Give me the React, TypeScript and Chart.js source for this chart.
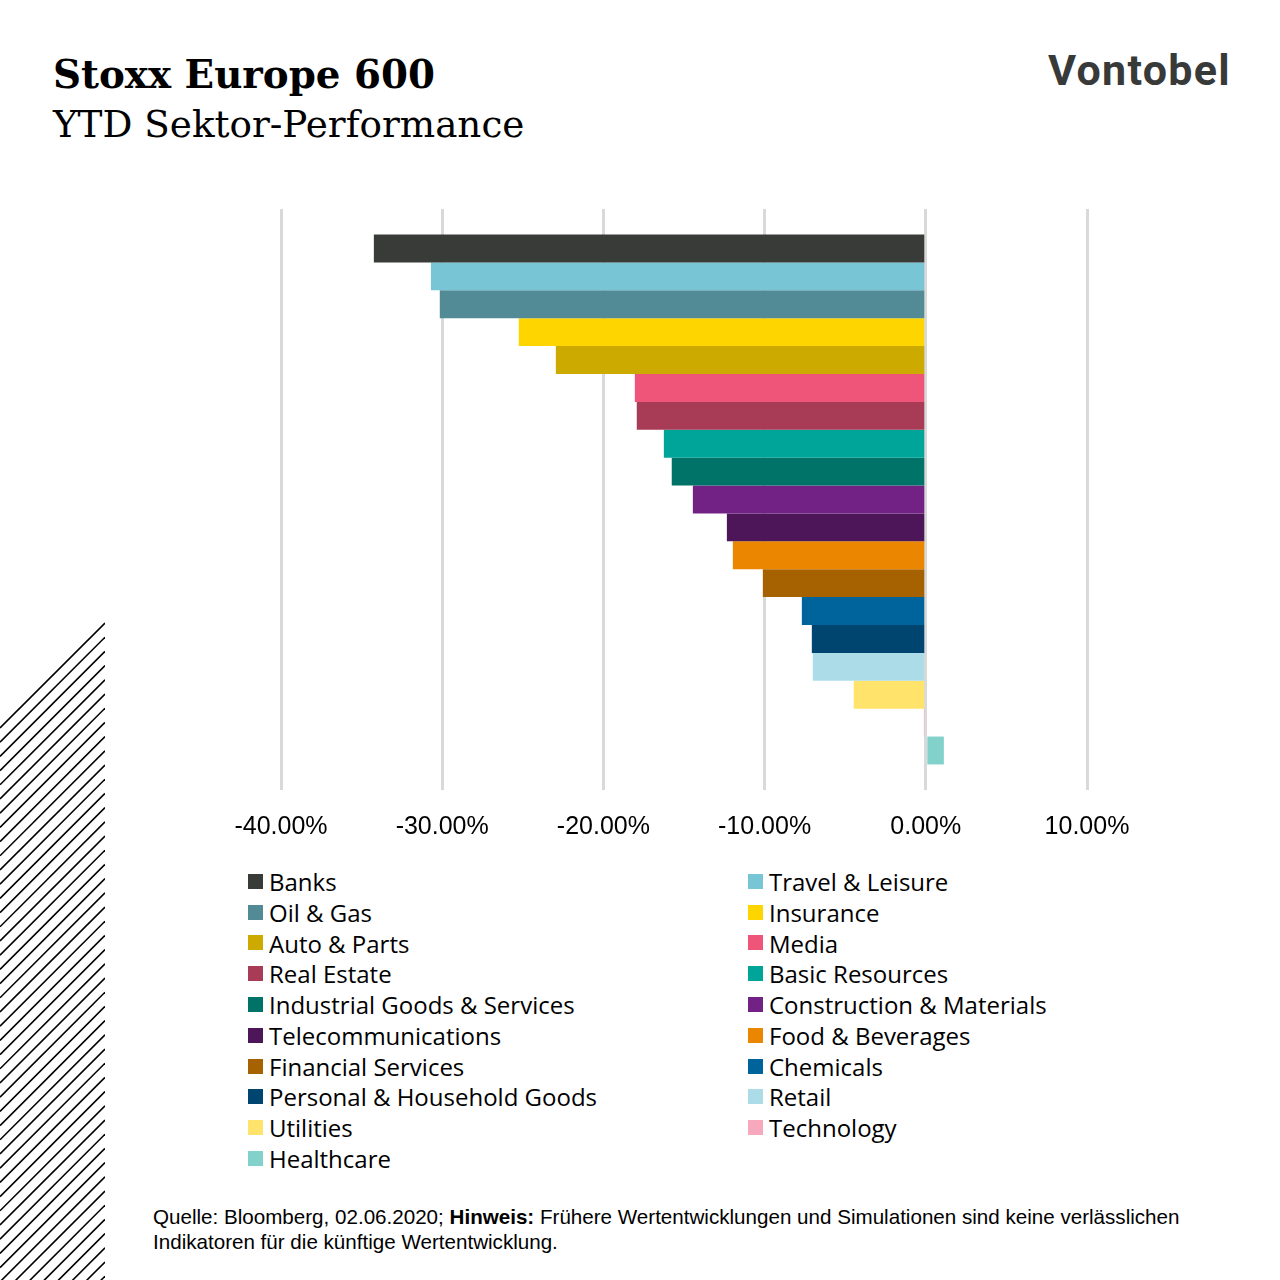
import React, { useEffect, useRef } from "react";
import { Chart, registerables } from "chart.js";

Chart.register(...registerables);

const sectors = [
  "Banks",
  "Travel & Leisure",
  "Oil & Gas",
  "Insurance",
  "Auto & Parts",
  "Media",
  "Real Estate",
  "Basic Resources",
  "Industrial Goods & Services",
  "Construction & Materials",
  "Telecommunications",
  "Food & Beverages",
  "Financial Services",
  "Chemicals",
  "Personal & Household Goods",
  "Retail",
  "Utilities",
  "Technology",
  "Healthcare",
];

const ytdPerformance = [
  -34.24, -30.7, -30.15, -25.25, -22.95, -18.05, -17.93, -16.25, -15.76, -14.45,
  -12.34, -11.97, -10.11, -7.69, -7.07, -7.01, -4.47, -0.12, 1.12,
];

const sectorColors = [
  "#383b38",
  "#77c5d5",
  "#528a96",
  "#ffd500",
  "#ccaa00",
  "#ee5578",
  "#a83c57",
  "#00a599",
  "#007368",
  "#722284",
  "#4d1659",
  "#ea8600",
  "#a66200",
  "#00649c",
  "#004470",
  "#acdce8",
  "#ffe36a",
  "#f7a8bc",
  "#82d2cb",
];

const xTicks = [-40, -30, -20, -10, 0, 10];

function Hatch() {
  const lines = [];
  for (let i = 0; i < 60; i++) {
    const y0 = 728 + i * 14.2;
    lines.push(
      <line key={i} x1={0} y1={y0} x2={105} y2={y0 - 105} stroke="#000" strokeWidth={1.6} />
    );
  }
  return (
    <svg
      width={106}
      height={1280}
      style={{ position: "absolute", left: 0, top: 0 }}
    >
      <defs>
        <clipPath id="hclip">
          <rect x={0} y={0} width={105} height={1280} />
        </clipPath>
      </defs>
      <g clipPath="url(#hclip)">{lines}</g>
    </svg>
  );
}

export default function App() {
  const canvasRef = useRef<HTMLCanvasElement | null>(null);

  useEffect(() => {
    if (!canvasRef.current) return;
    const chart = new Chart(canvasRef.current, {
      type: "bar",
      data: {
        labels: [""],
        datasets: sectors.map((s, i) => ({
          label: s,
          data: [ytdPerformance[i]],
          backgroundColor: sectorColors[i],
          borderWidth: 0,
          categoryPercentage: 0.912,
          barPercentage: 1,
        })),
      },
      options: {
        indexAxis: "y",
        animation: false,
        responsive: false,
        maintainAspectRatio: false,
        layout: { padding: { left: 81, right: 73, top: 19, bottom: 0 } },
        plugins: {
          legend: { display: false },
          tooltip: { enabled: false },
          title: { display: false },
        },
        scales: {
          x: {
            min: xTicks[0],
            max: xTicks[xTicks.length - 1],
            afterBuildTicks: (axis: any) => {
              axis.ticks = xTicks.map((v) => ({ value: v }));
            },
            grid: {
              color: "#d9d9d9",
              lineWidth: 3,
              drawTicks: false,
            },
            border: { display: false },
            ticks: {
              padding: 22,
              color: "#000",
              font: { family: "Liberation Sans", size: 25 },
              callback: (v: any) => Number(v).toFixed(2) + "%",
            },
          },
          y: { display: false },
        },
      },
    });
    return () => chart.destroy();
  }, []);

  return (
    <div
      style={{
        position: "absolute",
        left: 0,
        top: 0,
        width: 1280,
        height: 1280,
        background: "#fff",
        overflow: "hidden",
      }}
    >
      <Hatch />
      <div
        style={{
          position: "absolute",
          left: 53,
          top: 52,
          fontFamily: "DejaVu Serif",
          fontWeight: 700,
          fontSize: 38.8,
          lineHeight: "46px",
          color: "#000",
          whiteSpace: "nowrap",
        }}
      >
        Stoxx Europe 600
      </div>
      <div
        style={{
          position: "absolute",
          left: 53,
          top: 101,
          fontFamily: "DejaVu Serif",
          fontWeight: 400,
          fontSize: 37.3,
          lineHeight: "46px",
          color: "#000",
          whiteSpace: "nowrap",
        }}
      >
        YTD Sektor-Performance
      </div>
      <div
        style={{
          position: "absolute",
          left: 1048,
          top: 45,
          fontFamily: "Roboto",
          fontWeight: 700,
          fontSize: 43,
          letterSpacing: 1.3,
          lineHeight: "50px",
          color: "#383a39",
          whiteSpace: "nowrap",
        }}
      >
        Vontobel
      </div>
      <canvas
        ref={canvasRef}
        width={960}
        height={674}
        style={{ position: "absolute", left: 200, top: 190, width: 960, height: 674 }}
      />
      <div
        style={{
          position: "absolute",
          left: 248,
          top: 866,
          display: "grid",
          gridTemplateColumns: "500px 500px",
          gridAutoRows: "30.8px",
          fontFamily: "Open Sans",
          fontSize: 24,
          color: "#000",
        }}
      >
        {sectors.map((s, i) => (
          <div key={s} style={{ display: "flex", alignItems: "center", whiteSpace: "nowrap" }}>
            <span
              style={{
                display: "inline-block",
                width: 15,
                height: 15,
                background: sectorColors[i],
                marginRight: 6,
              }}
            />
            <span>{s}</span>
          </div>
        ))}
      </div>
      <div
        style={{
          position: "absolute",
          left: 153,
          top: 1204,
          fontFamily: "Liberation Sans",
          fontSize: 20.6,
          lineHeight: "25px",
          color: "#000",
          whiteSpace: "nowrap",
        }}
      >
        Quelle: Bloomberg, 02.06.2020; <b>Hinweis:</b> Frühere Wertentwicklungen und Simulationen sind keine verlässlichen
        <br />
        Indikatoren für die künftige Wertentwicklung.
      </div>
    </div>
  );
}
